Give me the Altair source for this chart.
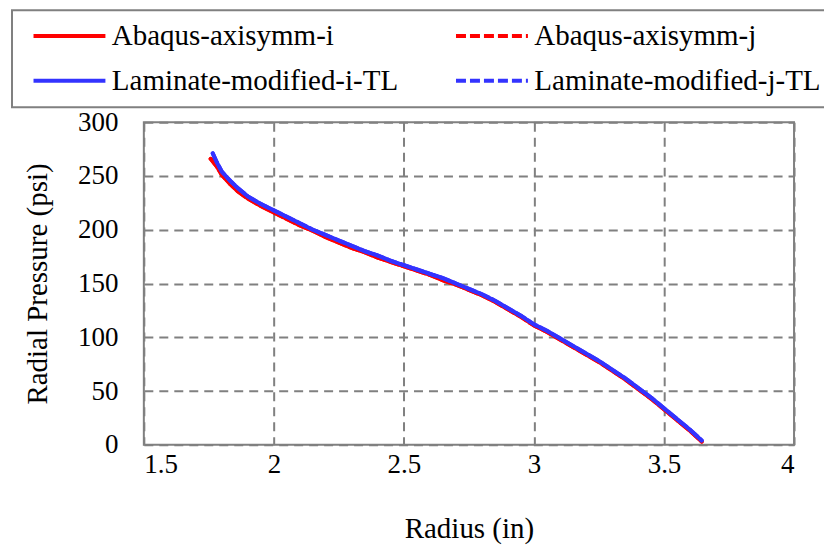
import altair as alt
import pandas as pd

# Radius (in) and radial pressure (psi)
radius_laminate = [1.765, 1.78, 1.80, 1.83, 1.86, 1.90, 1.95, 2.00, 2.05, 2.10, 2.15, 2.20,
                   2.25, 2.30, 2.35, 2.40, 2.45, 2.50, 2.55, 2.60, 2.65, 2.70, 2.75, 2.80,
                   2.85, 2.90, 2.95, 3.00, 3.05, 3.10, 3.15, 3.20, 3.25, 3.30, 3.35, 3.40,
                   3.45, 3.50, 3.55, 3.60, 3.645]
pressure_laminate = [271, 263, 254, 246, 239, 231, 224, 218, 212, 206, 200, 195,
                     190, 185, 180, 176, 171, 167, 163, 159, 155, 150, 145, 140,
                     134, 127, 120, 112, 106, 99, 92, 85, 78, 70, 62, 53,
                     44, 34, 24, 14, 4]

radius_abaqus = [1.757, 1.78, 1.80, 1.83, 1.86, 1.90, 1.95, 2.00, 2.05, 2.10, 2.15, 2.20,
                 2.25, 2.30, 2.35, 2.40, 2.45, 2.50, 2.55, 2.60, 2.65, 2.70, 2.75, 2.80,
                 2.85, 2.90, 2.95, 3.00, 3.05, 3.10, 3.15, 3.20, 3.25, 3.30, 3.35, 3.40,
                 3.45, 3.50, 3.55, 3.60, 3.645]
pressure_abaqus = [266, 259, 251, 243, 236, 229, 222, 216, 210, 204, 199, 193,
                   188, 183, 179, 174, 170, 166, 162, 158, 153, 149, 144, 139,
                   133, 126, 119, 111, 105, 98, 91, 84, 77, 69, 61, 52,
                   43, 33, 23, 13, 3]

series_names = ["Abaqus-axisymm-i", "Abaqus-axisymm-j",
                "Laminate-modified-i-TL", "Laminate-modified-j-TL"]
series_colors = ["#FF0000", "#FF0000", "#3333FF", "#3333FF"]
series_dash = [[1, 0], [10, 4], [1, 0], [10, 4]]
series_width = [4, 4, 6, 6]

x_ticks = [1.5, 2, 2.5, 3, 3.5, 4]
y_ticks = [0, 50, 100, 150, 200, 250, 300]

rows = []
for name in series_names:
    if name.startswith("Abaqus"):
        xs, ys = radius_abaqus, pressure_abaqus
    else:
        xs, ys = radius_laminate, pressure_laminate
    for i, (x, y) in enumerate(zip(xs, ys)):
        rows.append({"series": name, "radius": x, "pressure": y, "order": i})
df = pd.DataFrame(rows)

FONT = "Liberation Serif"

chart = alt.Chart(df).mark_line(strokeCap="round", strokeJoin="round").encode(
    x=alt.X("radius:Q", title="Radius (in)",
            scale=alt.Scale(domain=[1.5, 4], nice=False, zero=False),
            axis=alt.Axis(values=x_ticks, format="~g", ticks=False, domain=False,
                          labelPadding=7, titlePadding=37, labelFontSize=27)),
    y=alt.Y("pressure:Q", title="Radial Pressure (psi)",
            scale=alt.Scale(domain=[0, 300], nice=False),
            axis=alt.Axis(values=y_ticks, ticks=False, domain=False,
                          labelPadding=26, titlePadding=25, labelFontSize=27)),
    color=alt.Color("series:N", title=None,
                    scale=alt.Scale(domain=series_names, range=series_colors),
                    legend=alt.Legend(orient="none", legendX=-132, legendY=-112,
                                      direction="horizontal",
                                      columns=2, columnPadding=47, rowPadding=15,
                                      symbolType="M-0.33,0H5.67", symbolSize=576,
                                      symbolStrokeWidth=4, labelOffset=60,
                                      padding=11, strokeColor="#808080",
                                      labelFont=FONT, labelFontSize=29,
                                      labelColor="black", labelLimit=500)),
    strokeDash=alt.StrokeDash("series:N", title=None,
                              scale=alt.Scale(domain=series_names, range=series_dash)),
    strokeWidth=alt.StrokeWidth("series:N", title=None,
                                scale=alt.Scale(domain=series_names, range=series_width)),
    order="order:Q",
).properties(
    width=651,
    height=323,
    autosize=alt.AutoSizeParams(type="none"),
    padding={"left": 136, "top": 114, "right": 30, "bottom": 100},
).configure_view(
    stroke="#808080", strokeWidth=2
).configure_axis(
    grid=True, gridColor="#808080", gridDash=[9, 6], gridWidth=2, gridOpacity=1,
    labelFont=FONT, labelColor="black",
    titleFont=FONT, titleFontSize=29, titleFontWeight="normal", titleColor="black",
).configure_legend(
    strokeWidth=2
)

chart.save("out.html", embed_options={"renderer": "svg", "actions": False})
